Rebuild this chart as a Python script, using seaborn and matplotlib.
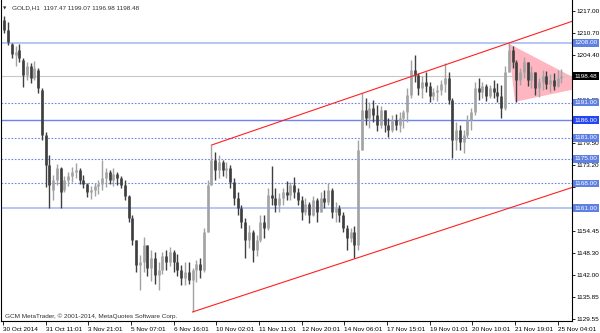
import numpy as np
import pandas as pd
import matplotlib
matplotlib.use("Agg")
import matplotlib.pyplot as plt
import seaborn as sns

# ---------------- data ----------------
symbol = "GOLD,H1"
last_ohlc = ["1197.47", "1199.07", "1196.98", "1198.48"]
copyright_text = "GCM MetaTrader, \u00a9 2001-2014, MetaQuotes Software Corp."
bar_hours = 3  # each drawn bar covers 3 hourly bars

opens = [1214.4, 1211.6, 1207.6, 1204.5, 1205.9, 1203.1, 1198.8, 1201.4, 1198.0, 1200.2,
         1194.6, 1181.8, 1173.2, 1166.2, 1169.0, 1172.4, 1166.2, 1169.0, 1170.1, 1171.3,
         1171.8, 1169.0, 1167.8, 1165.6, 1166.2, 1167.3, 1167.8, 1169.6, 1171.3, 1169.0,
         1170.7, 1169.6, 1167.6, 1164.4, 1158.2, 1152.0, 1144.8, 1145.7, 1150.5, 1144.0,
         1146.8, 1142.0, 1143.4, 1147.4, 1145.7, 1148.5, 1145.7, 1143.4, 1141.1, 1142.9,
         1140.6, 1143.4, 1145.1, 1143.4, 1154.2, 1167.6, 1174.7, 1171.8, 1174.1, 1171.8,
         1172.4, 1168.4, 1163.9, 1161.0, 1157.1, 1152.0, 1154.2, 1149.1, 1152.0, 1157.1,
         1155.4, 1164.7, 1163.9, 1161.9, 1163.9, 1165.6, 1164.7, 1167.6, 1165.6, 1163.3,
         1159.9, 1162.2, 1159.0, 1163.3, 1159.9, 1163.9, 1162.7, 1166.2, 1159.9, 1161.0,
         1159.0, 1155.4, 1152.5, 1154.2, 1150.5, 1177.5, 1188.9, 1186.6, 1189.4, 1187.5,
         1184.6, 1188.9, 1184.6, 1183.2, 1186.0, 1184.6, 1186.6, 1188.3, 1193.1, 1200.2,
         1198.8, 1195.1, 1196.8, 1195.7, 1192.9, 1194.0, 1194.6, 1196.3, 1198.0, 1191.7,
         1180.4, 1183.2, 1179.8, 1181.8, 1186.0, 1188.3, 1195.1, 1194.0, 1195.7, 1192.9,
         1195.1, 1194.0, 1192.9, 1189.4, 1199.7, 1205.9, 1202.5, 1197.4, 1199.7, 1202.5,
         1197.4, 1199.7, 1195.1, 1196.8, 1198.5, 1196.3, 1197.4, 1195.7, 1198.0]

highs = [1215.6, 1213.9, 1207.9, 1207.1, 1207.6, 1203.6, 1202.5, 1202.2, 1202.8, 1200.8,
         1195.1, 1182.6, 1176.1, 1170.4, 1173.5, 1172.6, 1170.1, 1171.3, 1172.7, 1173.8,
         1172.4, 1170.4, 1168.1, 1167.3, 1168.1, 1169.0, 1174.7, 1172.4, 1171.8, 1172.4,
         1171.3, 1170.1, 1169.0, 1164.7, 1159.0, 1152.0, 1147.7, 1152.8, 1150.5, 1149.1,
         1148.5, 1145.7, 1148.5, 1149.1, 1150.0, 1149.1, 1148.0, 1144.8, 1145.7, 1145.7,
         1144.0, 1146.3, 1146.8, 1155.4, 1169.0, 1178.9, 1176.9, 1176.1, 1174.7, 1174.1,
         1173.2, 1169.6, 1165.6, 1161.9, 1158.2, 1156.2, 1154.8, 1153.4, 1159.0, 1159.0,
         1166.7, 1172.9, 1166.7, 1165.3, 1166.7, 1168.7, 1168.4, 1169.8, 1166.7, 1164.4,
         1163.9, 1162.7, 1164.4, 1163.9, 1165.6, 1166.2, 1168.1, 1166.7, 1162.7, 1161.9,
         1159.9, 1156.2, 1155.4, 1155.9, 1180.4, 1193.7, 1192.3, 1191.2, 1191.7, 1190.3,
         1190.0, 1188.9, 1186.6, 1187.5, 1187.7, 1188.3, 1188.9, 1195.1, 1203.1, 1204.5,
         1199.4, 1198.5, 1199.7, 1196.8, 1195.1, 1196.0, 1197.4, 1202.2, 1199.7, 1192.3,
         1185.5, 1184.6, 1183.2, 1187.5, 1189.4, 1196.8, 1198.0, 1196.8, 1196.3, 1196.0,
         1197.4, 1196.5, 1196.0, 1201.4, 1207.9, 1207.1, 1203.1, 1200.8, 1203.9, 1202.5,
         1201.4, 1199.7, 1198.0, 1200.2, 1200.0, 1199.1, 1199.4, 1200.2, 1200.5]

lows = [1210.8, 1207.3, 1203.6, 1201.4, 1202.5, 1195.4, 1197.4, 1196.5, 1197.4, 1193.7,
        1180.4, 1167.0, 1161.0, 1163.3, 1167.6, 1161.0, 1165.6, 1167.3, 1168.4, 1169.6,
        1167.8, 1166.7, 1164.1, 1163.6, 1164.4, 1165.0, 1166.2, 1167.0, 1167.8, 1167.3,
        1167.6, 1166.7, 1163.3, 1157.1, 1150.5, 1142.9, 1137.7, 1142.9, 1141.7, 1140.3,
        1139.5, 1137.7, 1142.3, 1143.4, 1144.5, 1142.9, 1141.7, 1139.2, 1139.2, 1139.5,
        1131.5, 1140.0, 1141.1, 1142.9, 1154.2, 1167.6, 1169.0, 1169.6, 1170.1, 1169.6,
        1166.7, 1161.9, 1159.0, 1155.4, 1146.8, 1149.7, 1145.7, 1147.4, 1151.4, 1152.5,
        1154.8, 1161.9, 1159.9, 1159.9, 1161.9, 1163.3, 1163.3, 1163.9, 1161.9, 1157.6,
        1159.0, 1156.8, 1158.8, 1157.1, 1159.9, 1161.0, 1161.9, 1158.2, 1157.1, 1157.1,
        1154.2, 1149.1, 1151.4, 1146.8, 1149.1, 1177.5, 1184.6, 1183.8, 1185.5, 1182.9,
        1183.8, 1182.6, 1181.2, 1182.6, 1183.2, 1182.6, 1183.8, 1185.5, 1192.3, 1196.8,
        1193.1, 1192.3, 1194.0, 1191.2, 1191.7, 1191.4, 1193.1, 1194.0, 1190.6, 1175.2,
        1177.5, 1177.5, 1176.7, 1180.9, 1183.2, 1187.5, 1191.7, 1192.3, 1191.4, 1192.3,
        1192.3, 1191.2, 1186.6, 1188.9, 1199.7, 1200.8, 1191.2, 1196.0, 1198.0, 1195.7,
        1195.1, 1193.1, 1192.6, 1194.6, 1194.8, 1194.0, 1194.6, 1195.4, 1196.5]

closes = [1211.6, 1208.2, 1204.8, 1205.4, 1203.6, 1198.8, 1201.4, 1198.0, 1200.8, 1195.1,
          1181.8, 1173.2, 1167.6, 1169.0, 1172.4, 1165.6, 1169.0, 1170.1, 1171.3, 1171.8,
          1169.0, 1167.8, 1165.6, 1166.2, 1167.3, 1167.8, 1169.6, 1171.3, 1169.0, 1170.7,
          1169.6, 1167.6, 1164.4, 1158.2, 1152.0, 1144.8, 1145.7, 1150.5, 1144.0, 1146.8,
          1142.0, 1143.4, 1147.4, 1145.7, 1148.5, 1145.7, 1143.4, 1141.1, 1142.9, 1140.6,
          1143.4, 1145.1, 1143.4, 1154.2, 1167.6, 1174.7, 1171.8, 1174.1, 1171.8, 1172.4,
          1168.4, 1163.9, 1161.0, 1157.1, 1152.0, 1154.2, 1149.1, 1152.0, 1157.1, 1155.4,
          1164.7, 1163.9, 1161.9, 1163.9, 1165.6, 1164.7, 1167.6, 1165.6, 1163.3, 1159.9,
          1162.2, 1159.0, 1163.3, 1159.9, 1163.9, 1162.7, 1166.2, 1159.9, 1161.0, 1159.0,
          1155.4, 1152.5, 1154.2, 1150.5, 1177.5, 1188.9, 1186.6, 1189.4, 1187.5, 1184.6,
          1188.9, 1184.6, 1183.2, 1186.0, 1184.6, 1186.6, 1188.3, 1193.1, 1200.2, 1198.8,
          1195.1, 1196.8, 1195.7, 1192.9, 1194.0, 1194.6, 1196.3, 1198.0, 1191.7, 1180.4,
          1183.2, 1179.8, 1181.8, 1186.0, 1188.3, 1195.1, 1194.0, 1195.7, 1192.9, 1195.1,
          1194.0, 1192.9, 1189.4, 1199.7, 1205.9, 1202.5, 1197.4, 1199.7, 1202.5, 1197.4,
          1199.7, 1195.1, 1196.8, 1198.5, 1196.3, 1197.4, 1195.7, 1198.0, 1198.48]

time_labels = ["30 Oct 2014", "31 Oct 11:01", "3 Nov 21:01", "5 Nov 07:01", "6 Nov 16:01",
               "10 Nov 02:01", "11 Nov 11:01", "12 Nov 20:01", "14 Nov 06:01", "17 Nov 15:01",
               "19 Nov 01:01", "20 Nov 10:01", "21 Nov 19:01", "25 Nov 04:01"]
label_every_hours = 34

price_ticks = [1217.00, 1210.70, 1204.40, 1198.25, 1191.85, 1185.65, 1179.50, 1173.20,
               1167.05, 1160.75, 1154.45, 1148.30, 1142.00, 1135.85, 1129.55]
# tick labels fully covered by level boxes in the reference
hidden_ticks = [1198.25, 1185.65, 1167.05, 1160.75]

current_price = 1198.48
solid_levels = [1208.0, 1161.0]
main_level = [1186.0]
dotted_levels = [1191.0, 1181.0, 1175.0, 1168.0]

# trend objects: (hour, price) anchor points
upper_channel_t = [166.0, 403.0]
upper_channel_p = [1178.9, 1207.9]
lower_channel_t = [151.0, 281.0]
lower_channel_p = [1131.5, 1146.7]
triangle_t = [402.6, 408.0, 467.7]
triangle_p = [1207.8, 1191.2, 1195.7]

# ---------------- style ----------------
sns.set_theme(style="white")
plt.rcParams["font.family"] = ["Liberation Sans", "DejaVu Sans"]

W, H = 600, 333
fig = plt.figure(figsize=(W / 100, H / 100), dpi=100)
fig.patch.set_facecolor("white")
ax = fig.add_axes([1 / W, 12 / H, 571 / W, 321 / H])
ax.set_facecolor("white")

px_per_hour = 1.255
xmin = (1 - 3) / px_per_hour
xmax = (572 - 3) / px_per_hour
ax.set_xlim(xmin, xmax)
ax.set_ylim(1128.93, 1220.13)

df = pd.DataFrame({"open": opens, "high": highs, "low": lows, "close": closes})
df["t"] = np.arange(len(df)) * bar_hours + 1
df["up"] = df["close"] >= df["open"]

# pink triangle (background object)
ax.fill(triangle_t, triangle_p, color="#ffb6c1", lw=0, zorder=1)

# horizontal levels
ax.axhline(current_price, color="#c8c8c8", lw=0.8, zorder=1.2)
for lv in solid_levels:
    ax.axhline(lv, color="#a9bcf2", lw=1.2, zorder=1.3)
for lv in main_level:
    ax.axhline(lv, color="#6f82f2", lw=1.0, zorder=1.3)
for lv in dotted_levels:
    ax.axhline(lv, color="#6d86e6", lw=0.8, ls=(0, (1.5, 1.5)), zorder=1.3)

# candles
up_col, dn_col = "#a3a3a3", "#3f3f3f"
cols = np.where(df["up"], up_col, dn_col)
ax.vlines(df["t"], df["low"], df["high"], colors=cols, lw=1.0, zorder=2)
ax.vlines(df["t"], np.minimum(df["open"], df["close"]), np.maximum(df["open"], df["close"]),
          colors=cols, lw=1.9, zorder=2.1)

# channel lines (rays to the right)
def ray(ts, ps, t_end):
    slope = (ps[1] - ps[0]) / (ts[1] - ts[0])
    return pd.DataFrame({"t": [ts[0], t_end], "p": [ps[0], ps[0] + slope * (t_end - ts[0])]})

sns.lineplot(data=ray(upper_channel_t, upper_channel_p, xmax + 10), x="t", y="p",
             color="#ff2020", lw=0.8, ax=ax, zorder=3)
sns.lineplot(data=ray(lower_channel_t, lower_channel_p, xmax + 10), x="t", y="p",
             color="#ff2020", lw=0.8, ax=ax, zorder=3)
ax.set_xlim(xmin, xmax)
ax.set_xlabel("")
ax.set_ylabel("")

# spines
for s in ["left", "right", "bottom"]:
    ax.spines[s].set_visible(True)
    ax.spines[s].set_color("black")
    ax.spines[s].set_linewidth(0.8)
ax.spines["top"].set_visible(False)

# axes ticks
fs = 4.6
ax.yaxis.tick_right()
ax.set_yticks(price_ticks)
ax.set_yticklabels(["" if v in hidden_ticks else f"{v:.2f}" for v in price_ticks])
ax.tick_params(axis="y", which="major", direction="out", length=2, width=0.6, pad=1.5,
               labelsize=fs, colors="black", right=True, left=False)
xt = [i * label_every_hours for i in range(len(time_labels))]
ax.set_xticks(xt)
ax.set_xticklabels(time_labels)
ax.tick_params(axis="x", which="major", direction="out", length=3, width=0.6, pad=1.5,
               labelsize=fs, colors="black", bottom=True)
for lbl in ax.get_xticklabels():
    lbl.set_ha("left")
ax.grid(False)

# level boxes on price scale
ytr = ax.get_yaxis_transform()
xbox = 1 + 2.5 / 571
def box(price, fc, txt=None):
    ax.text(xbox, price, txt or f"{price:.2f}", transform=ytr, ha="left", va="center",
            fontsize=fs, color="white", zorder=10, clip_on=False,
            bbox=dict(boxstyle="square,pad=0.22", fc=fc, ec="none"))

for lv in solid_levels + dotted_levels:
    box(lv, "#5d80e2")
for lv in main_level:
    box(lv, "#2346f2")
box(current_price, "black", f"{current_price:.2f}")

# header and footer
fig.text(3 / W, 1 - 8 / H, "\u25bc", fontsize=3.2, color="#303030", va="center", ha="left",
         family=["DejaVu Sans"])
fig.text(12 / W, 1 - 8 / H, f"{symbol}  " + " ".join(last_ohlc), fontsize=fs, color="#303030",
         va="center", ha="left")
fig.text(5 / W, 1 - 316 / H, copyright_text, fontsize=fs, color="#303030", va="center", ha="left")

fig.savefig("out.png", dpi=100, facecolor="white")
